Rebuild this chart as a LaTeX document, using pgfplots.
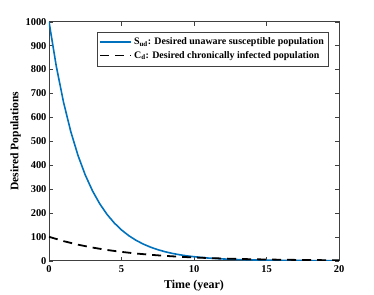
\documentclass[border=0pt]{standalone}
\usepackage{pgfplots}
\pgfplotsset{compat=1.18}
\usepackage{fontspec}
\setmainfont{Liberation Serif}
\definecolor{mblue}{rgb}{0,0.447,0.741}
\begin{document}
\begin{tikzpicture}
\begin{axis}[
  scale only axis,
  width=290bp, height=239bp,
  xmin=0, xmax=20, ymin=0, ymax=1000,
  xtick={0,5,10,15,20},
  ytick={0,100,...,1000},
  tick align=inside,
  axis line style={black!75},
  tick style={black!75},
  major tick length=4bp,
  /pgf/number format/assume math mode=true,
  ticklabel style={font=\fontsize{10.5}{12}\selectfont\bfseries},
  yticklabel style={/pgf/number format/1000 sep={}, xshift=1bp},
  xticklabel style={yshift=-1bp},
  scaled y ticks=false,
  xlabel={Time (year)},
  ylabel={Desired Populations},
  xlabel style={font=\fontsize{12}{14}\selectfont\bfseries, yshift=-1bp},
  ylabel style={font=\fontsize{11.6}{14}\selectfont\bfseries, yshift=-2bp},
  legend style={at={(0.962,0.958)}, anchor=north east, draw=black!75,
    font=\fontsize{10}{12}\selectfont\bfseries, inner xsep=2pt, inner ysep=4pt, row sep=1pt},
  legend cell align=left,
  legend image code/.code={\draw[#1] (0bp,0bp) -- (31bp,0bp);},
]
\addplot[mblue, line width=1.6pt] coordinates {
(0,1000) (0.5,814.6) (1,663.6) (1.5,540.6) (2,440.4) (2.5,358.7) (3,292.2) (3.5,238.0) (4,193.9) (4.5,158.0) (5,128.7) (5.5,104.8) (6,85.4) (6.5,69.6) (7,56.7) (7.5,46.2) (8,37.6) (8.5,30.6) (9,24.9) (9.5,20.3) (10,16.6) (11,11.0) (12,7.3) (13,4.8) (14,3.2) (15,2.1) (16,1.4) (17,0.9) (18,0.6) (19,0.4) (20,0.3)
};
\addlegendentry{S$_{\mathbf{ud}}$: Desired unaware susceptible population}
\addplot[black, line width=1.8pt, dash pattern=on 9bp off 6bp] coordinates {
(0,100) (1,81.9) (2,67.0) (3,54.9) (4,44.9) (5,36.8) (6,30.1) (7,24.7) (8,20.2) (9,16.5) (10,13.5) (11,11.1) (12,9.1) (13,7.4) (14,6.1) (15,5.0) (16,4.1) (17,3.3) (18,2.7) (19,2.2) (20,1.8)
};
\addlegendentry{C$_{\mathbf{d}}$: Desired chronically infected population}
\end{axis}
\useasboundingbox ([xshift=-49bp,yshift=-33bp]current axis.south west) rectangle ([xshift=35bp,yshift=21.7bp]current axis.north east);
\end{tikzpicture}
\end{document}
